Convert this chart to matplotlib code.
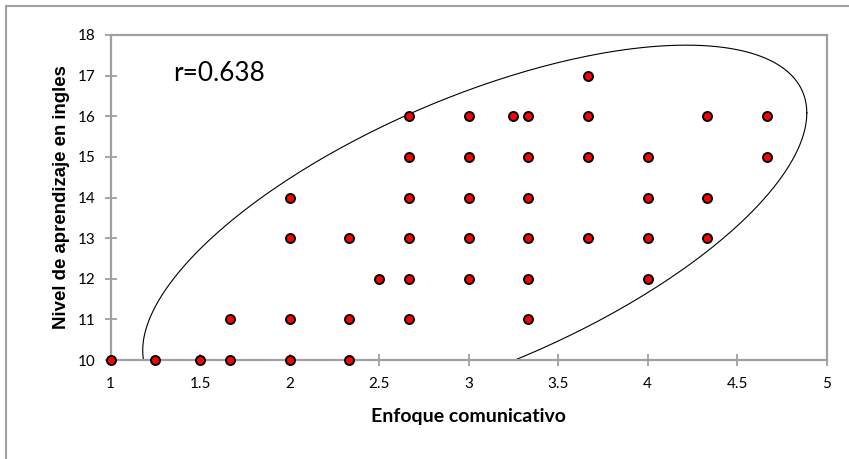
import numpy as np
import matplotlib.pyplot as plt
from matplotlib.lines import Line2D

# datos
enfoque = [1, 1.25, 1.5, 1.67, 2, 2.33,
           1.67, 2, 2.33, 2.67, 3.33,
           2.5, 2.67, 3, 3.33, 4,
           2, 2.33, 2.67, 3, 3.33, 3.67, 4, 4.33,
           2, 2.67, 3, 3.33, 4, 4.33,
           2.67, 3, 3.33, 3.67, 4, 4.67,
           2.67, 3, 3.25, 3.33, 3.67, 4.33, 4.67,
           3.67]
nivel = [10, 10, 10, 10, 10, 10,
         11, 11, 11, 11, 11,
         12, 12, 12, 12, 12,
         13, 13, 13, 13, 13, 13, 13, 13,
         14, 14, 14, 14, 14, 14,
         15, 15, 15, 15, 15, 15,
         16, 16, 16, 16, 16, 16, 16,
         17]

x_ticks = [1, 1.5, 2, 2.5, 3, 3.5, 4, 4.5, 5]
y_ticks = [10, 11, 12, 13, 14, 15, 16, 17, 18]
r_text = 'r=0.638'

# elipse dibujada a mano en el original
cx, cy = 3.035, 13.16
ax_x, ax_y, fase = 1.855, 4.59, 0.881

gris = '#a0a0a0'

fig = plt.figure(figsize=(8.49, 4.59), dpi=100)
ax = fig.add_axes([110.5 / 849, 1 - 360 / 459, 716 / 849, 325 / 459])

t = np.linspace(0, 2 * np.pi, 400)
ax.plot(cx + ax_x * np.cos(t), cy + ax_y * np.cos(t - fase), color='black', lw=0.8, zorder=2)

ax.scatter(enfoque, nivel, s=42, c='#ff0000', edgecolors='black', linewidths=1.4, zorder=3, clip_on=False)

ax.set_xlim(1, 5)
ax.set_ylim(10, 18)
ax.set_xticks(x_ticks)
ax.set_xticklabels([f'{v:g}' for v in x_ticks])
ax.set_yticks(y_ticks)

for s in ax.spines.values():
    s.set_color(gris)
    s.set_linewidth(1.6)

ax.tick_params(direction='inout', length=9, width=1.3, color=gris, labelsize=11,
               labelfontfamily='Lato')
ax.tick_params(axis='x', pad=8)
ax.tick_params(axis='y', pad=6)

ax.set_xlabel('Enfoque comunicativo', fontfamily='Lato', fontweight='bold', fontsize=14, labelpad=12)
ax.set_ylabel('Nivel de aprendizaje en ingles', fontfamily='Liberation Sans', fontweight='bold',
              fontsize=13.4, labelpad=6)

ax.text(1.35, 17.05, r_text, fontfamily='Lato', fontsize=18.8, va='center', ha='left')

# borde exterior del grafico (solo arriba e izquierda visibles)
fig.add_artist(Line2D([6 / 849, 6 / 849], [0, 1 - 6 / 459], color=gris, lw=1.5))
fig.add_artist(Line2D([6 / 849, 1], [1 - 6 / 459, 1 - 6 / 459], color=gris, lw=1.5))

fig.savefig('out.png', dpi=100)
